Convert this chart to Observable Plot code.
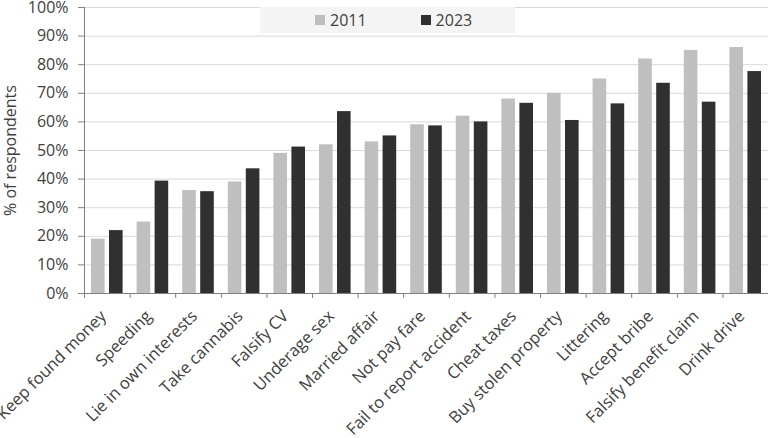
<!DOCTYPE html>
<html>
<head>
<meta charset="utf-8">
<script src="https://cdn.jsdelivr.net/npm/d3@7"></script>
<script src="https://cdn.jsdelivr.net/npm/@observablehq/plot@0.6"></script>
<style>
  html, body { margin: 0; padding: 0; background: #fff; }
  #wrap { position: relative; width: 768px; height: 438px; font-family: "Open Sans", sans-serif; }
  #legend { position: absolute; left: 260px; top: 7px; width: 255px; height: 26px; background: #f4f4f4;
            display: flex; align-items: center; font-size: 16px; color: #404040; }
  .sw { display: inline-block; width: 10px; height: 10px; margin-right: 5px; }
  .item { display: flex; align-items: center; }
</style>
</head>
<body>
<div id="wrap">
  <div id="chart"></div>
  <div id="legend">
    <span class="item" style="margin-left:55px"><span class="sw" style="background:#bfbfbf"></span>2011</span>
    <span class="item" style="margin-left:54px"><span class="sw" style="background:#303030"></span>2023</span>
  </div>
</div>
<script>
const categories = ["Keep found money","Speeding","Lie in own interests","Take cannabis","Falsify CV","Underage sex","Married affair","Not pay fare","Fail to report accident","Cheat taxes","Buy stolen property","Littering","Accept bribe","Falsify benefit claim","Drink drive"];
const values2011 = [19, 25, 36, 39, 49, 52, 53, 59, 62, 68, 70, 75, 82, 85, 86];
const values2023 = [22, 39.3, 35.6, 43.6, 51.2, 63.6, 55.1, 58.6, 60, 66.5, 60.5, 66.3, 73.5, 66.9, 77.6];
const yTicks = [0, 10, 20, 30, 40, 50, 60, 70, 80, 90, 100];

const data = categories.map((c, i) => ({category: c, v2011: values2011[i] / 100, v2023: values2023[i] / 100}));

const W = 768, H = 438, ML = 84, MR = 0, MT = 7, MB = 145;
const bw = (W - ML - MR) / categories.length;
const textColor = "#404040";

const plot = Plot.plot({
  width: W, height: H,
  marginLeft: ML, marginRight: MR, marginTop: MT, marginBottom: MB,
  style: {fontFamily: "Open Sans, sans-serif", fontSize: "16px", color: textColor, background: "#fff", overflow: "visible"},
  x: {domain: categories, padding: 0, round: false},
  y: {domain: [0, 1]},
  marks: [
    Plot.gridY(yTicks.map(d => d / 100), {stroke: "#d9d9d9", strokeOpacity: 1}),
    Plot.barY(data, {x: "category", y: "v2011", fill: "#bfbfbf", insetLeft: 7, insetRight: 25}),
    Plot.barY(data, {x: "category", y: "v2023", fill: "#303030", insetLeft: 25, insetRight: 7}),
    Plot.ruleY([0], {stroke: "#7f7f7f"}),
    Plot.axisY(yTicks.map(d => d / 100), {tickFormat: d3.format(".0%"), tickSize: 6, tickPadding: 10, stroke: "#7f7f7f", fill: textColor,
      label: "% of respondents", labelAnchor: "center", labelArrow: "none", labelOffset: 80, fontSize: 16}),
    Plot.axisX({tickSize: 5, tickFormat: () => "", dx: -bw / 2, label: null, stroke: "#7f7f7f"}),
    Plot.axisX([categories[categories.length - 1]], {tickSize: 5, tickFormat: () => "", dx: bw / 2, label: null, stroke: "#7f7f7f"}),
    Plot.axisX({tickSize: 0, tickRotate: -45, tickPadding: 20, dx: -4, label: null, fill: textColor, fontSize: 16.5}),
    Plot.ruleX([0], {x: () => categories[0], dx: -bw / 2, stroke: "#7f7f7f"})
  ]
});
document.getElementById("chart").appendChild(plot);
</script>
</body>
</html>
